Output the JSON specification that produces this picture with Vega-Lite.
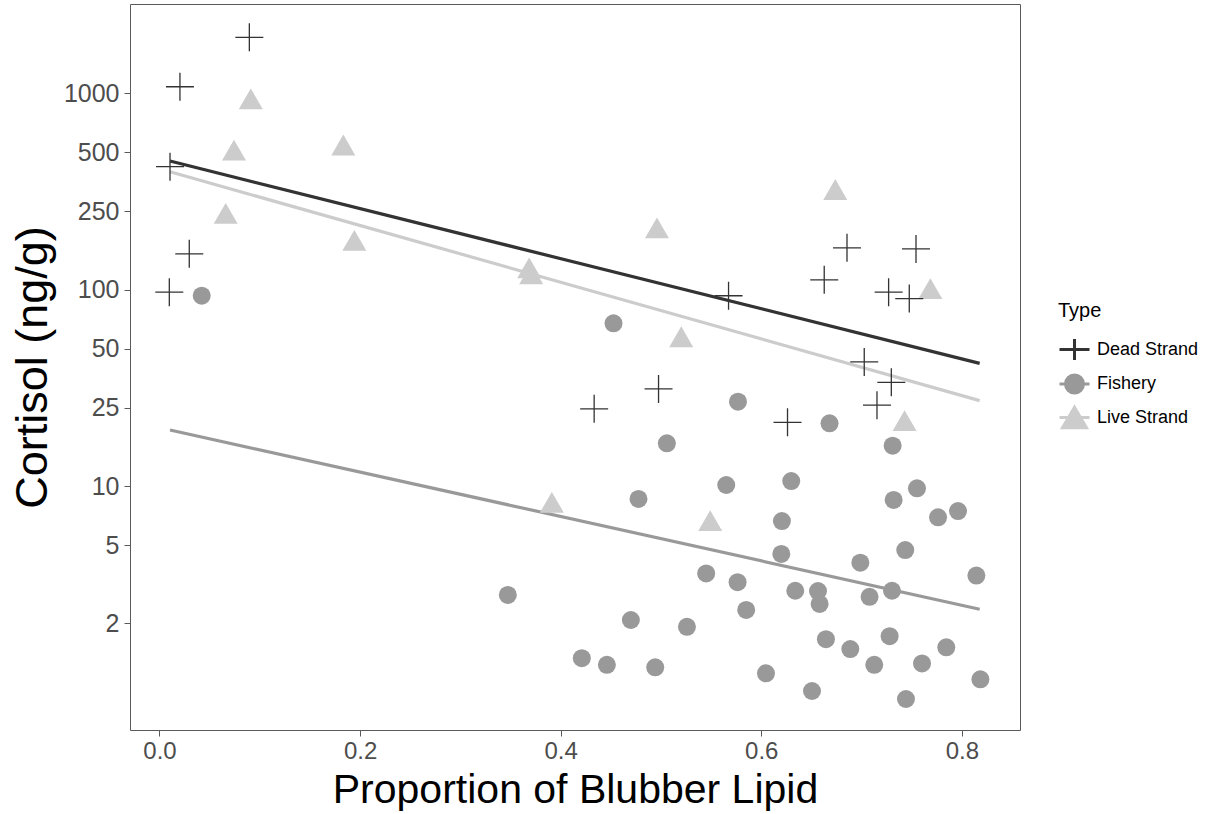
{
  "$schema": "https://vega.github.io/schema/vega-lite/v6.json",
  "width": 890,
  "height": 726,
  "autosize": {"type": "none"},
  "padding": {"left": 130, "top": 4, "right": 187, "bottom": 84},
  "background": "white",
  "config": {
    "font": "Liberation Sans",
    "view": {"stroke": "#5a5a5a", "strokeWidth": 1}
  },
  "resolve": {"legend": {"color": "independent"}},
  "datasets": {
    "dead": [
      {"Type": "Dead Strand", "lipid": 0.0896, "cortisol": 1921},
      {"Type": "Dead Strand", "lipid": 0.0204, "cortisol": 1077},
      {"Type": "Dead Strand", "lipid": 0.0105, "cortisol": 422},
      {"Type": "Dead Strand", "lipid": 0.0297, "cortisol": 152},
      {"Type": "Dead Strand", "lipid": 0.0098, "cortisol": 97},
      {"Type": "Dead Strand", "lipid": 0.6855, "cortisol": 163},
      {"Type": "Dead Strand", "lipid": 0.7543, "cortisol": 161},
      {"Type": "Dead Strand", "lipid": 0.6628, "cortisol": 112},
      {"Type": "Dead Strand", "lipid": 0.5674, "cortisol": 93},
      {"Type": "Dead Strand", "lipid": 0.727, "cortisol": 97},
      {"Type": "Dead Strand", "lipid": 0.7476, "cortisol": 90},
      {"Type": "Dead Strand", "lipid": 0.7027, "cortisol": 42.8},
      {"Type": "Dead Strand", "lipid": 0.7297, "cortisol": 33.7},
      {"Type": "Dead Strand", "lipid": 0.7154, "cortisol": 25.8},
      {"Type": "Dead Strand", "lipid": 0.4334, "cortisol": 24.7},
      {"Type": "Dead Strand", "lipid": 0.4976, "cortisol": 31.2},
      {"Type": "Dead Strand", "lipid": 0.6262, "cortisol": 21.1}
    ],
    "live": [
      {"Type": "Live Strand", "lipid": 0.091, "cortisol": 935},
      {"Type": "Live Strand", "lipid": 0.0743, "cortisol": 513},
      {"Type": "Live Strand", "lipid": 0.1833, "cortisol": 544},
      {"Type": "Live Strand", "lipid": 0.066, "cortisol": 244},
      {"Type": "Live Strand", "lipid": 0.1943, "cortisol": 178},
      {"Type": "Live Strand", "lipid": 0.3686, "cortisol": 129},
      {"Type": "Live Strand", "lipid": 0.3706, "cortisol": 120},
      {"Type": "Live Strand", "lipid": 0.6738, "cortisol": 323},
      {"Type": "Live Strand", "lipid": 0.496, "cortisol": 206},
      {"Type": "Live Strand", "lipid": 0.5202, "cortisol": 57.5},
      {"Type": "Live Strand", "lipid": 0.7686, "cortisol": 101},
      {"Type": "Live Strand", "lipid": 0.7429, "cortisol": 21.5},
      {"Type": "Live Strand", "lipid": 0.5491, "cortisol": 6.66},
      {"Type": "Live Strand", "lipid": 0.3912, "cortisol": 8.26}
    ],
    "fishery": [
      {"Type": "Fishery", "lipid": 0.0421, "cortisol": 93},
      {"Type": "Fishery", "lipid": 0.3473, "cortisol": 2.79},
      {"Type": "Fishery", "lipid": 0.4527, "cortisol": 67.3},
      {"Type": "Fishery", "lipid": 0.5768, "cortisol": 26.85},
      {"Type": "Fishery", "lipid": 0.6681, "cortisol": 20.85},
      {"Type": "Fishery", "lipid": 0.5059, "cortisol": 16.5},
      {"Type": "Fishery", "lipid": 0.731, "cortisol": 16.04},
      {"Type": "Fishery", "lipid": 0.5651, "cortisol": 10.12},
      {"Type": "Fishery", "lipid": 0.6299, "cortisol": 10.6},
      {"Type": "Fishery", "lipid": 0.4776, "cortisol": 8.59},
      {"Type": "Fishery", "lipid": 0.7553, "cortisol": 9.73},
      {"Type": "Fishery", "lipid": 0.732, "cortisol": 8.49},
      {"Type": "Fishery", "lipid": 0.7763, "cortisol": 6.93},
      {"Type": "Fishery", "lipid": 0.7962, "cortisol": 7.46},
      {"Type": "Fishery", "lipid": 0.6206, "cortisol": 6.63},
      {"Type": "Fishery", "lipid": 0.62, "cortisol": 4.51},
      {"Type": "Fishery", "lipid": 0.7436, "cortisol": 4.72},
      {"Type": "Fishery", "lipid": 0.6988, "cortisol": 4.07},
      {"Type": "Fishery", "lipid": 0.8145, "cortisol": 3.5},
      {"Type": "Fishery", "lipid": 0.5451, "cortisol": 3.59},
      {"Type": "Fishery", "lipid": 0.5764, "cortisol": 3.24},
      {"Type": "Fishery", "lipid": 0.6339, "cortisol": 2.93},
      {"Type": "Fishery", "lipid": 0.6566, "cortisol": 2.92},
      {"Type": "Fishery", "lipid": 0.6582, "cortisol": 2.51},
      {"Type": "Fishery", "lipid": 0.708, "cortisol": 2.73},
      {"Type": "Fishery", "lipid": 0.7304, "cortisol": 2.93},
      {"Type": "Fishery", "lipid": 0.585, "cortisol": 2.34},
      {"Type": "Fishery", "lipid": 0.47, "cortisol": 2.08},
      {"Type": "Fishery", "lipid": 0.5259, "cortisol": 1.92},
      {"Type": "Fishery", "lipid": 0.6645, "cortisol": 1.66},
      {"Type": "Fishery", "lipid": 0.6888, "cortisol": 1.48},
      {"Type": "Fishery", "lipid": 0.728, "cortisol": 1.72},
      {"Type": "Fishery", "lipid": 0.7845, "cortisol": 1.51},
      {"Type": "Fishery", "lipid": 0.4211, "cortisol": 1.33},
      {"Type": "Fishery", "lipid": 0.4461, "cortisol": 1.23},
      {"Type": "Fishery", "lipid": 0.4943, "cortisol": 1.195},
      {"Type": "Fishery", "lipid": 0.6047, "cortisol": 1.114},
      {"Type": "Fishery", "lipid": 0.7127, "cortisol": 1.23},
      {"Type": "Fishery", "lipid": 0.7603, "cortisol": 1.25},
      {"Type": "Fishery", "lipid": 0.6506, "cortisol": 0.905},
      {"Type": "Fishery", "lipid": 0.7443, "cortisol": 0.824},
      {"Type": "Fishery", "lipid": 0.8185, "cortisol": 1.038}
    ],
    "fits": [
      {"Type": "Dead Strand", "lipid": 0.0105, "cortisol": 450.8},
      {"Type": "Dead Strand", "lipid": 0.8178, "cortisol": 42.1},
      {"Type": "Live Strand", "lipid": 0.0105, "cortisol": 397.6},
      {"Type": "Live Strand", "lipid": 0.8178, "cortisol": 27.2},
      {"Type": "Fishery", "lipid": 0.0105, "cortisol": 19.28},
      {"Type": "Fishery", "lipid": 0.8178, "cortisol": 2.36}
    ]
  },
  "encoding": {
    "x": {
      "field": "lipid",
      "type": "quantitative",
      "scale": {"domain": [-0.0294, 0.858], "nice": false, "zero": false},
      "axis": {
        "title": "Proportion of Blubber Lipid",
        "values": [0, 0.2, 0.4, 0.6, 0.8],
        "format": ".1f",
        "grid": false,
        "domain": false,
        "ticks": true,
        "tickSize": 6,
        "tickColor": "#5a5a5a",
        "labelFontSize": 24,
        "labelColor": "#4d4d4d",
        "labelPadding": 3,
        "titleFontSize": 41,
        "titleFontWeight": "normal",
        "titleColor": "black",
        "titlePadding": 7
      }
    },
    "y": {
      "field": "cortisol",
      "type": "quantitative",
      "scale": {"type": "log", "domain": [0.573, 2840], "nice": false},
      "axis": {
        "title": "Cortisol (ng/g)",
        "values": [2, 5, 10, 25, 50, 100, 250, 500, 1000],
        "format": "d",
        "grid": false,
        "domain": false,
        "tickSize": 6,
        "tickColor": "#5a5a5a",
        "labelFontSize": 25,
        "labelColor": "#4d4d4d",
        "labelPadding": 5,
        "titleFontSize": 45,
        "titleFontWeight": "normal",
        "titleColor": "black",
        "titlePadding": 8
      }
    }
  },
  "layer": [
    {
      "data": {"name": "fits"},
      "mark": {"type": "line", "strokeWidth": 3.2},
      "encoding": {
        "stroke": {
          "field": "Type",
          "type": "nominal",
          "scale": {"domain": ["Dead Strand", "Fishery", "Live Strand"], "range": ["#333333", "#999999", "#cccccc"]},
          "legend": null
        }
      }
    },
    {
      "data": {"name": "fishery"},
      "mark": {"type": "point", "shape": "circle", "filled": true, "opacity": 1, "size": 324},
      "encoding": {
        "color": {
          "field": "Type",
          "type": "nominal",
          "scale": {"domain": ["Dead Strand", "Fishery", "Live Strand"], "range": ["#333333", "#999999", "#cccccc"]},
          "legend": {
            "orient": "none",
            "legendX": 928,
            "legendY": 297,
            "title": "Type",
            "titleFontSize": 20,
            "titleFontWeight": "normal",
            "titleColor": "black",
            "titlePadding": 12,
            "labelFontSize": 18,
            "labelColor": "black",
            "labelOffset": 6,
            "symbolSize": 900,
            "rowPadding": 1.5,
            "encoding": {
              "symbols": {
                "shape": {"value": {"expr": "datum.value === 'Dead Strand' ? 'M-1,0L1,0M0,-0.7L0,0.7' : (datum.value === 'Fishery' ? 'M-1,0L1,0M-0.6,0A0.6,0.6,0,1,0,0.6,0A0.6,0.6,0,1,0,-0.6,0Z' : 'M-1,0L1,0M0,-0.69L0.8,0.69L-0.8,0.69Z')"}},
                "fill": {"value": {"expr": "datum.value === 'Dead Strand' ? '#333333' : (datum.value === 'Fishery' ? '#999999' : '#cccccc')"}},
                "stroke": {"value": {"expr": "datum.value === 'Dead Strand' ? '#333333' : (datum.value === 'Fishery' ? '#999999' : '#cccccc')"}},
                "strokeWidth": {"value": 3},
                "opacity": {"value": 1},
                "size": {"value": 900}
              }
            }
          }
        }
      }
    },
    {
      "data": {"name": "live"},
      "mark": {"type": "point", "shape": "triangle-up", "filled": true, "opacity": 1, "size": 576},
      "encoding": {
        "color": {
          "field": "Type",
          "type": "nominal",
          "scale": {"domain": ["Dead Strand", "Fishery", "Live Strand"], "range": ["#333333", "#999999", "#cccccc"]},
          "legend": null
        }
      }
    },
    {
      "data": {"name": "dead"},
      "mark": {"type": "point", "shape": "M-1,0L1,0M0,-1L0,1", "filled": false, "opacity": 1, "size": 784, "strokeWidth": 1.3},
      "encoding": {
        "color": {
          "field": "Type",
          "type": "nominal",
          "scale": {"domain": ["Dead Strand", "Fishery", "Live Strand"], "range": ["#333333", "#999999", "#cccccc"]},
          "legend": null
        }
      }
    }
  ]
}
